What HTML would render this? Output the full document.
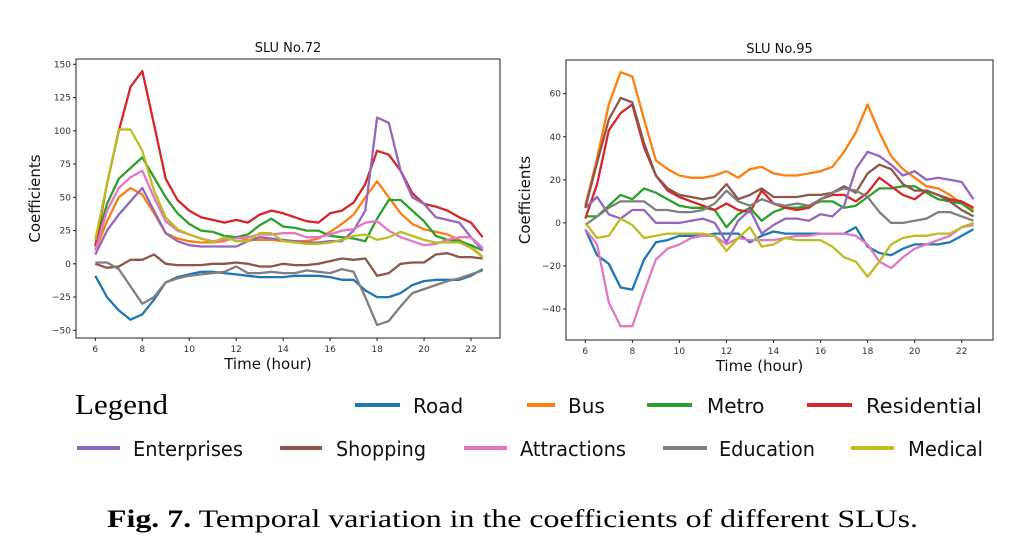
<!DOCTYPE html>
<html><head><meta charset="utf-8"><style>
body{margin:0;background:#fff;width:1016px;height:546px;overflow:hidden}
svg{display:block}
.t{font-family:"DejaVu Sans","Liberation Sans",sans-serif}
</style></head><body>
<svg id="s" width="1016" height="546" xmlns="http://www.w3.org/2000/svg">
<rect width="1016" height="546" fill="#fff"/>
<g id="p1"></g><g id="p2"></g>
<text x="75" y="414" font-family="Liberation Serif,serif" font-size="29" textLength="93" lengthAdjust="spacingAndGlyphs">Legend</text>
<g class="t" font-size="20" fill="#111">
<line x1="355" y1="405" x2="400" y2="405" stroke="#1f77b4" stroke-width="4"/><text x="413" y="413">Road</text>
<line x1="527" y1="405" x2="555" y2="405" stroke="#ff7f0e" stroke-width="4"/><text x="568" y="413">Bus</text>
<line x1="647" y1="405" x2="692" y2="405" stroke="#2ca02c" stroke-width="4"/><text x="707" y="413">Metro</text>
<line x1="807" y1="405" x2="852" y2="405" stroke="#d62728" stroke-width="4"/><text x="866" y="413" textLength="116" lengthAdjust="spacingAndGlyphs">Residential</text>
<line x1="77" y1="448" x2="120" y2="448" stroke="#9467bd" stroke-width="4"/><text x="133" y="456" textLength="110" lengthAdjust="spacingAndGlyphs">Enterprises</text>
<line x1="280" y1="448" x2="322" y2="448" stroke="#8c564b" stroke-width="4"/><text x="336" y="456" textLength="90" lengthAdjust="spacingAndGlyphs">Shopping</text>
<line x1="464" y1="448" x2="507" y2="448" stroke="#e377c2" stroke-width="4"/><text x="520" y="456" textLength="106" lengthAdjust="spacingAndGlyphs">Attractions</text>
<line x1="663" y1="448" x2="707" y2="448" stroke="#7f7f7f" stroke-width="4"/><text x="719" y="456" textLength="96" lengthAdjust="spacingAndGlyphs">Education</text>
<line x1="851" y1="448" x2="894" y2="448" stroke="#bcbd22" stroke-width="4"/><text x="908" y="456" textLength="75" lengthAdjust="spacingAndGlyphs">Medical</text>
</g>
<text x="107" y="527" font-family="Liberation Serif,serif" font-size="25" textLength="811" lengthAdjust="spacingAndGlyphs"><tspan font-weight="bold">Fig. 7.</tspan> Temporal variation in the coefficients of different SLUs.</text>
</svg>
<script>
var C=["#1f77b4","#ff7f0e","#2ca02c","#d62728","#9467bd","#8c564b","#e377c2","#7f7f7f","#bcbd22"];
var D1=[
[-9,-25,-35,-42,-38,-27,-14,-10,-8,-6,-6,-7,-8,-9,-10,-10,-10,-9,-9,-9,-10,-12,-12,-20,-25,-25,-22,-16,-13,-12,-12,-12,-9,-4],
[10,32,50,57,52,38,23,19,17,16,16,17,20,18,18,18,17,17,17,19,24,30,37,50,62,50,38,30,26,24,22,18,13,5],
[14,45,64,72,80,65,50,38,30,25,24,21,20,22,29,34,28,27,25,25,21,20,19,17,34,48,48,40,32,21,18,17,14,10],
[13,60,100,133,145,105,64,48,40,35,33,31,33,31,37,40,38,35,32,31,38,40,46,60,85,82,70,53,45,43,40,35,31,20],
[7,25,37,47,57,40,23,17,14,13,13,13,13,17,20,19,18,17,16,16,17,17,25,40,110,106,70,50,45,35,33,31,20,10],
[0,-3,-2,3,3,7,0,-1,-1,-1,0,0,1,0,-2,-2,0,-1,-1,0,2,4,3,4,-9,-7,0,1,1,7,8,5,5,4],
[10,40,57,65,70,50,32,25,22,19,17,18,19,20,22,22,23,23,20,20,22,25,26,31,32,25,20,17,14,15,18,20,20,12],
[1,1,-4,-17,-30,-25,-14,-11,-9,-8,-7,-6,-2,-7,-7,-6,-7,-7,-5,-6,-7,-4,-6,-25,-46,-43,-32,-22,-19,-16,-13,-11,-8,-5],
[18,60,101,101,85,55,35,26,22,19,16,20,17,17,23,23,17,16,15,15,16,18,21,22,18,20,24,21,18,16,16,16,12,5]];
var D2=[
[-3,-15,-19,-30,-31,-17,-9,-8,-6,-6,-6,-5,-5,-5,-9,-6,-4,-5,-5,-5,-5,-5,-5,-2,-11,-14,-15,-12,-10,-10,-10,-9,-6,-3],
[8,30,55,70,68,48,29,25,22,21,21,22,24,21,25,26,23,22,22,23,24,26,33,42,55,42,31,25,21,17,16,13,9,6],
[3,3,8,13,11,16,14,11,8,7,7,6,-2,4,7,1,5,7,7,8,10,10,7,8,12,16,16,17,17,14,11,10,9,5],
[2,18,43,51,55,35,22,15,12,10,8,6,9,6,5,15,9,7,6,7,11,13,13,10,14,21,17,13,11,15,13,11,10,7],
[7,12,4,2,6,6,0,0,0,1,2,0,-9,1,6,-5,-1,2,2,1,4,3,8,25,33,31,27,22,24,20,21,20,19,11],
[7,28,48,58,56,37,22,16,13,12,11,12,18,11,13,16,12,12,12,13,13,14,17,14,23,27,25,18,15,15,13,10,6,3],
[-3,-10,-37,-48,-48,-32,-17,-12,-10,-7,-6,-6,-10,-7,-8,-8,-8,-7,-6,-6,-5,-5,-5,-6,-10,-18,-21,-16,-12,-10,-8,-6,-2,-1],
[-1,3,7,10,10,10,6,6,5,5,6,9,15,10,8,11,9,8,9,8,11,14,16,15,12,5,0,0,1,2,5,5,3,1],
[0,-7,-6,2,-1,-7,-6,-5,-5,-5,-5,-6,-13,-7,-2,-11,-10,-7,-8,-8,-8,-11,-16,-18,-25,-18,-10,-7,-6,-6,-5,-5,-2,0]];
function plot(id,box,x6,x22,ya,va,yb,vb,ticks,D,title){
 var g=document.getElementById(id),h='';
 var X=function(t){return x6+(t-6)*(x22-x6)/16},Y=function(v){return ya+(v-va)*(yb-ya)/(vb-va)};
 D.forEach(function(d,i){var p=d.map(function(v,k){return X(6+k*0.5).toFixed(1)+','+Y(v).toFixed(1)}).join(' ');
  h+='<polyline points="'+p+'" fill="none" stroke="'+C[i]+'" stroke-width="2.3" stroke-linejoin="round"/>';});
 h+='<rect x="'+box[0]+'" y="'+box[1]+'" width="'+(box[2]-box[0])+'" height="'+(box[3]-box[1])+'" fill="none" stroke="#222" stroke-width="1"/>';
 for(var t=6;t<=22;t+=2){var x=X(t);h+='<line x1="'+x+'" y1="'+box[3]+'" x2="'+x+'" y2="'+(box[3]+3)+'" stroke="#222"/><text x="'+x+'" y="'+(box[3]+14)+'" font-size="9" text-anchor="middle" fill="#333">'+t+'</text>';}
 ticks.forEach(function(v){var y=Y(v);h+='<line x1="'+(box[0]-3)+'" y1="'+y+'" x2="'+box[0]+'" y2="'+y+'" stroke="#222"/><text x="'+(box[0]-5)+'" y="'+(y+3)+'" font-size="9" text-anchor="end" fill="#333">'+(v<0?'\u2212'+(-v):v)+'</text>';});
 var cx=(box[0]+box[2])/2;
 h+='<text x="'+cx+'" y="'+(box[1]-7)+'" font-size="13" text-anchor="middle" fill="#111">'+title+'</text>';
 h+='<text x="'+(cx-20)+'" y="'+(box[3]+31)+'" font-size="15" text-anchor="middle" fill="#111">Time (hour)</text>';
 var my=(box[1]+box[3])/2;
 h+='<text transform="translate('+(box[0]-36)+','+my+') rotate(-90)" font-size="15" text-anchor="middle" fill="#111">Coefficients</text>';
 g.setAttribute('class','t');g.innerHTML=h;
}
plot('p1',[76,59,500,338],95.3,471,64.3,150,330.3,-50,[150,125,100,75,50,25,0,-25,-50],D1,'SLU No.72');
plot('p2',[566,60,993,340],585.3,961.7,93.7,60,309,-40,[60,40,20,0,-20,-40],D2,'SLU No.95');
</script>
</body></html>
